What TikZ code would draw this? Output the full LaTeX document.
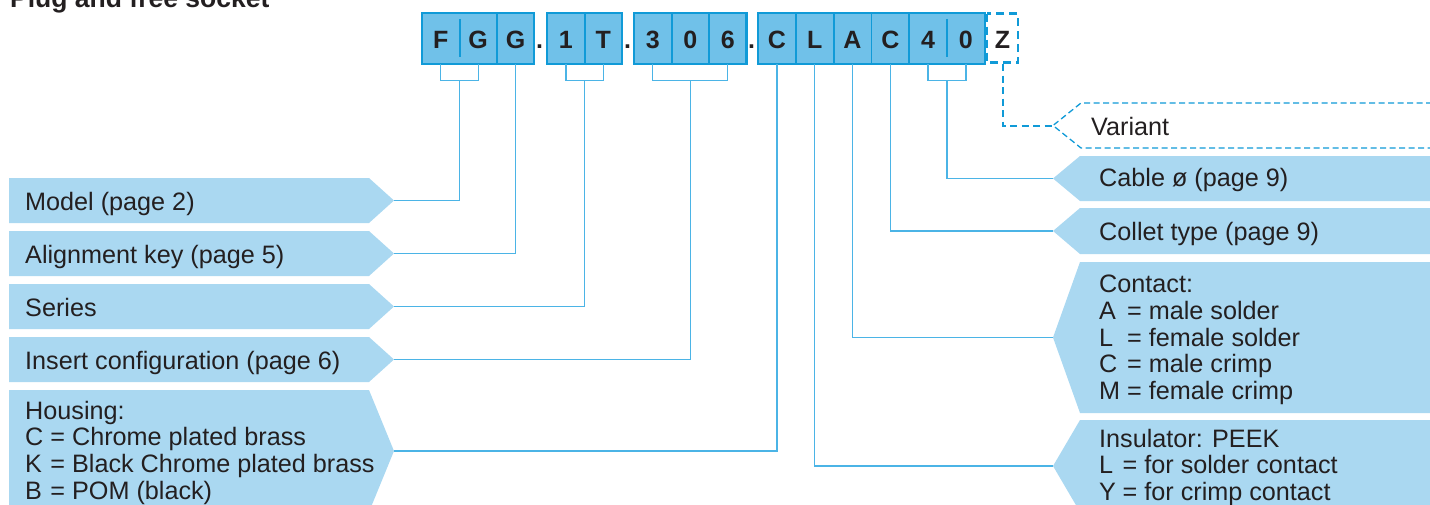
\documentclass[tikz,border=0pt]{standalone}
\usepackage{fontspec}
\setmainfont{Liberation Sans}
\usepackage{xcolor}
\usepackage{tikz}
\usetikzlibrary{positioning}
\definecolor{lemoBlue}{RGB}{16,154,215}
\definecolor{lemoCell}{RGB}{112,193,233}
\definecolor{lemoLabel}{RGB}{170,216,241}
\definecolor{lemoLine}{RGB}{75,180,230}
\definecolor{lemoText}{RGB}{35,31,32}
\tikzset{
  cell/.style={inner sep=0pt, minimum width=37.5pt, text height=35pt, text depth=16pt, anchor=base, text=lemoText, font=\bfseries\fontsize{25}{25}\selectfont},
  codebox/.style={fill=lemoCell, draw=lemoBlue, line width=2.6pt},
  divider/.style={draw=lemoBlue, line width=1.8pt},
  link/.style={draw=lemoLine, line width=1.4pt},
  tag/.style={fill=lemoLabel},
  tagtext/.style={inner sep=0pt, anchor=base west, align=left, text=lemoText, font=\fontsize{25.2}{26.6}\selectfont},
}

\begin{document}
\begin{tikzpicture}[x=1pt, y=-1pt]
  \useasboundingbox (0,0) rectangle (1430,504);

  \node[anchor=base west, inner sep=0pt, text=lemoText, font=\bfseries\fontsize{26.5}{26.5}\selectfont] (title) at (10,7.5) {Plug and free socket};

  % the code
  \filldraw[codebox] (422,13) rectangle (534,64);
  \filldraw[codebox] (547,13) rectangle (622,64);
  \filldraw[codebox] (634,13) rectangle (746.5,64);
  \filldraw[codebox] (758,13) rectangle (985,64);
  \filldraw[codebox, fill=white, line width=2.4pt, dash pattern=on 8pt off 5pt] (987,13.5) rectangle (1018,62.5);

  \foreach \n/\x/\t in {c1/440.7/F, c2/478.2/G, c3/515.5/G, c4/565.8/1, c5/603.2/T, c6/652.7/3, c7/690.2/0, c8/727.7/6,
      c9/776.9/C, c10/814.7/L, c11/852.5/A, c12/890.3/C, c13/928.1/4, c14/965.9/0}
    \node[cell] (\n) at (\x,48) {\t};
  \node[cell, minimum width=31pt] (z) at (1002.5,48) {Z};
  \foreach \n/\x in {dot1/539.7, dot2/627.5, dot3/751.7}
    \node[cell, minimum width=6pt] (\n) at (\x,48) {.};

  \foreach \n in {c2, c4, c6, c7, c9, c10, c11, c12}
    \draw[divider] (\n.north east) -- (\n.south east);
  \foreach \n in {c1, c13}
    \draw[divider] ([yshift=-6pt]\n.north east) -- ([yshift=7pt]\n.south east);

  % left labels
  \foreach \n/\y/\t in {model/178/Model (page 2), align/231/Alignment key (page 5), series/284/Series, insert/337/Insert configuration (page 6)} {
    \fill[tag] (9,\y) -- ++(360,0) -- ++(25,22.5) -- ++(-25,22.5) -- ++(-360,0) -- cycle;
    \node[tagtext] (\n) at (25,\y+32) {\t};
    \coordinate (\n-tip) at (394,\y+22.5);
  }
  % multi-line texts sit on their last baseline
  \fill[tag] (9,390) -- (369,390) -- (394,451) -- (369,512) -- (9,512) -- cycle;
  \node[tagtext] (housing) at (25,499) {Housing:\\\makebox[1em][l]{C}= Chrome plated brass\\\makebox[1em][l]{K}= Black Chrome plated brass\\\makebox[1em][l]{B}= POM (black)};
  \coordinate (housing-tip) at (394,451);

  % right labels
  \draw[lemoBlue, line width=1.3pt, dash pattern=on 6pt off 3.5pt] (1432,103) -- (1081,103) -- (1053,125.5) -- (1081,148) -- (1432,148);
  \node[tagtext] (variant) at (1091,135) {Variant};
  \coordinate (variant-tip) at (1053,125.5);

  \fill[tag] (1432,156) -- (1080,156) -- (1053,178.5) -- (1080,201) -- (1432,201) -- cycle;
  \node[tagtext] (cable) at (1099,186.7) {Cable ø (page 9)};
  \coordinate (cable-tip) at (1053,178.5);

  \fill[tag] (1432,208) -- (1080,208) -- (1053,231) -- (1080,254) -- (1432,254) -- cycle;
  \node[tagtext] (collet) at (1099,240) {Collet type (page 9)};
  \coordinate (collet-tip) at (1053,231);

  \fill[tag] (1432,262) -- (1080,262) -- (1053,337.5) -- (1080,413) -- (1432,413) -- cycle;
  \node[tagtext] (contact) at (1099,399.3) {Contact:\\\makebox[1.11em][l]{A}= male solder\\\makebox[1.11em][l]{L}= female solder\\\makebox[1.11em][l]{C}= male crimp\\\makebox[1.11em][l]{M}= female crimp};
  \coordinate (contact-tip) at (1053,337.5);

  \fill[tag] (1432,420) -- (1080,420) -- (1053,466) -- (1080,512) -- (1432,512) -- cycle;
  \node[tagtext] (insul) at (1099,500.5) {Insulator: PEEK\\\makebox[0.93em][l]{L}= for solder contact\\\makebox[0.93em][l]{Y}= for crimp contact};
  \coordinate (insul-tip) at (1053,466);

  % connectors
  \draw[link] (c1.south) -- ++(0,16) -| (c2.south);
  \draw[link] (c1.south east) ++(0,16) |- (model-tip);
  \draw[link] (c3.south) |- (align-tip);
  \draw[link] (c4.south) -- ++(0,16) -| (c5.south);
  \draw[link] (c4.south east) ++(0,16) |- (series-tip);
  \draw[link] (c6.south) -- ++(0,16) -| (c8.south);
  \draw[link] (c7.south) ++(0,16) |- (insert-tip);
  \draw[link] (c9.south) |- (housing-tip);
  \draw[link] (c10.south) |- (insul-tip);
  \draw[link] (c11.south) |- (contact-tip);
  \draw[link] (c12.south) |- (collet-tip);
  \draw[link] (c13.south) -- ++(0,16) -| (c14.south);
  \draw[link] (c13.south east) ++(0,16) |- (cable-tip);
  \draw[link, draw=lemoBlue, line width=2pt, dash pattern=on 7pt off 4.5pt] (z.south) |- (variant-tip);
\end{tikzpicture}
\end{document}
